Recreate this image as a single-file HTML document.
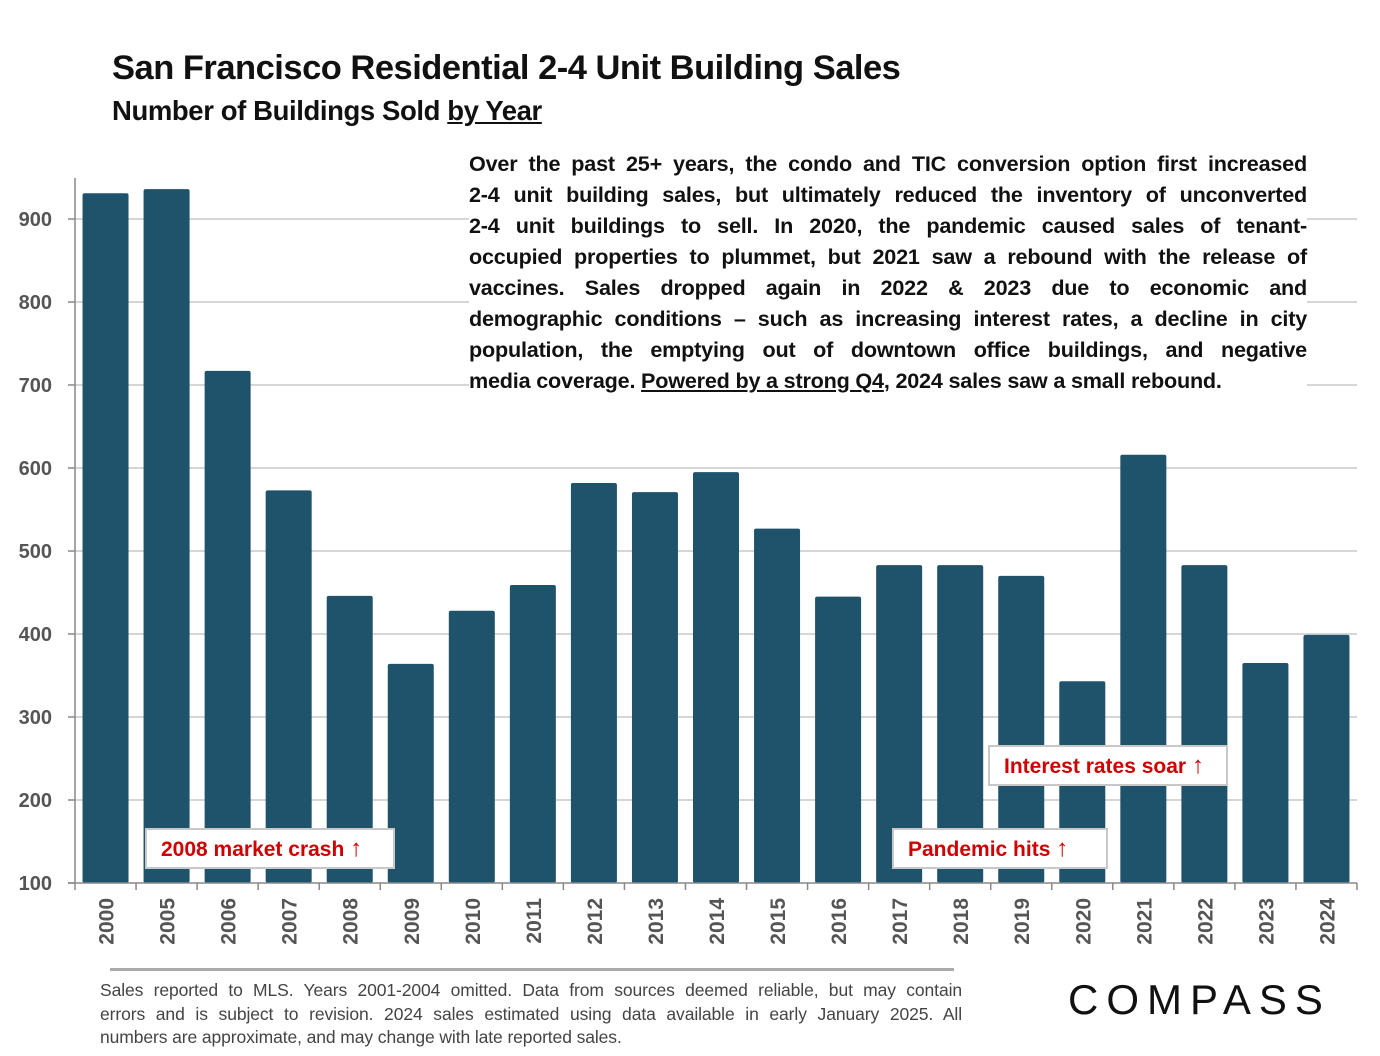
<!DOCTYPE html>
<html><head><meta charset="utf-8">
<style>
body{margin:0;background:#fff;}
#wrap{position:relative;width:1380px;height:1056px;overflow:hidden;background:#fff;font-family:"Liberation Sans",sans-serif;}
.t1{position:absolute;left:112px;top:49px;font-size:34.5px;font-weight:bold;color:#111;letter-spacing:-0.5px;}
.t2{position:absolute;left:112px;top:95px;font-size:27.5px;font-weight:bold;color:#111;letter-spacing:-0.4px;}
.desc{position:absolute;left:469px;top:148px;width:838px;font-size:21.6px;font-weight:bold;color:#111;line-height:31px;background:#fff;padding:0;letter-spacing:-0.2px;}
.desc div{text-align:justify;text-align-last:justify;white-space:nowrap;overflow:visible;}
.desc div.last{text-align-last:left;}
.foot{position:absolute;left:100px;top:979px;width:862px;font-size:17.5px;color:#444;line-height:23.5px;letter-spacing:-0.1px;}
.foot div{text-align:justify;text-align-last:justify;white-space:nowrap;}
.foot div.last{text-align-last:left;}
.logo{position:absolute;left:1068px;top:976px;font-size:42px;letter-spacing:8px;color:#111;font-weight:normal;}
.note{position:absolute;background:#fff;border:2px solid #c8c8c8;color:#d00000;font-weight:bold;font-size:21px;box-sizing:border-box;padding-left:14px;line-height:37px;}
.note b{font-size:24px;}
</style></head>
<body>
<div id="wrap">
<div class="t1">San Francisco Residential 2-4 Unit Building Sales</div>
<div class="t2">Number of Buildings Sold <u>by Year</u></div>
<svg id="chart" width="1380" height="1056" style="position:absolute;left:0;top:0"></svg>
<div class="desc">
<div>Over the past 25+ years, the condo and TIC conversion option first increased</div>
<div>2-4 unit building sales, but ultimately reduced the inventory of unconverted</div>
<div>2-4 unit buildings to sell. In 2020, the pandemic caused sales of tenant-</div>
<div>occupied properties to plummet, but 2021 saw a rebound with the release of</div>
<div>vaccines. Sales dropped again in 2022 &amp; 2023 due to economic and</div>
<div>demographic conditions – such as increasing interest rates, a decline in city</div>
<div>population, the emptying out of downtown office buildings, and negative</div>
<div class="last">media coverage. <u>Powered by a strong Q4</u>, 2024 sales saw a small rebound.</div>
</div>
<div class="note" style="left:145px;top:828px;width:250px;height:41px;">2008 market crash <b>↑</b></div>
<div class="note" style="left:892px;top:828px;width:216px;height:41px;">Pandemic hits <b>↑</b></div>
<div class="note" style="left:988px;top:745px;width:240px;height:41px;">Interest rates soar <b>↑</b></div>
<div style="position:absolute;left:110px;top:968px;width:844px;height:3px;background:#aaa"></div>
<div class="foot">
<div>Sales reported to MLS. Years 2001-2004 omitted. Data from sources deemed reliable, but may contain</div>
<div>errors and is subject to revision. 2024 sales estimated using data available in early January 2025. All</div>
<div class="last">numbers are approximate, and may change with late reported sales.</div>
</div>
<div class="logo">COMPASS</div>
</div>
<script>
const years=["2000","2005","2006","2007","2008","2009","2010","2011","2012","2013","2014","2015","2016","2017","2018","2019","2020","2021","2022","2023","2024"];
const sales=[931,936,717,573,446,364,428,459,582,571,595,527,445,483,483,470,343,616,483,365,399];
const yTicks=[100,200,300,400,500,600,700,800,900];
const NS="http://www.w3.org/2000/svg";
const svg=document.getElementById('chart');
const x0=75,x1=1357,step=(x1-x0)/years.length,bw=46;
function yScale(v){return 883-(v-100)*0.83;}
function xCenter(i){return x0+step*(i+0.5);}
function mk(t,a){const e=document.createElementNS(NS,t);for(const k in a)e.setAttribute(k,a[k]);svg.appendChild(e);return e;}
yTicks.forEach(v=>{
  const y=yScale(v);
  if(v>100){const g=mk('line',{x1:x0,x2:1357,y1:y,y2:y,stroke:'#c8c8c8','stroke-width':1.5});
  
  }
  const tk=mk('line',{x1:x0-7,x2:x0,y1:y,y2:y,stroke:'#888','stroke-width':1.5});
  
  
  const t=mk('text',{x:52,y:y+7,'text-anchor':'end','font-size':20,'font-weight':'bold',fill:'#555','font-family':'Liberation Sans, sans-serif'});
  t.textContent=v;
  
  
});
years.forEach((yr,i)=>{
  const c=xCenter(i),top=yScale(sales[i]);
  const r=mk('rect',{x:c-bw/2,y:top,width:bw,height:883-top,fill:'#1f526b',rx:2});
  
  
  const tk=mk('line',{x1:x0+step*i,x2:x0+step*i,y1:883,y2:890,stroke:'#888','stroke-width':1.5});
  
  
  const t=mk('text',{x:0,y:0,transform:`translate(${c+8},${898}) rotate(-90)`,'text-anchor':'end','font-size':21,'font-weight':'bold',fill:'#555','font-family':'Liberation Sans, sans-serif'});
  t.textContent=yr;
  
  
});
const lt=mk('line',{x1:x1,x2:x1,y1:883,y2:890,stroke:'#888','stroke-width':1.5});


const ya=mk('line',{x1:x0,x2:x0,y1:178,y2:883,stroke:'#888','stroke-width':1.5});


const xa=mk('line',{x1:x0-7,x2:x1,y1:883,y2:883,stroke:'#888','stroke-width':1.5});


</script>
</body></html>
